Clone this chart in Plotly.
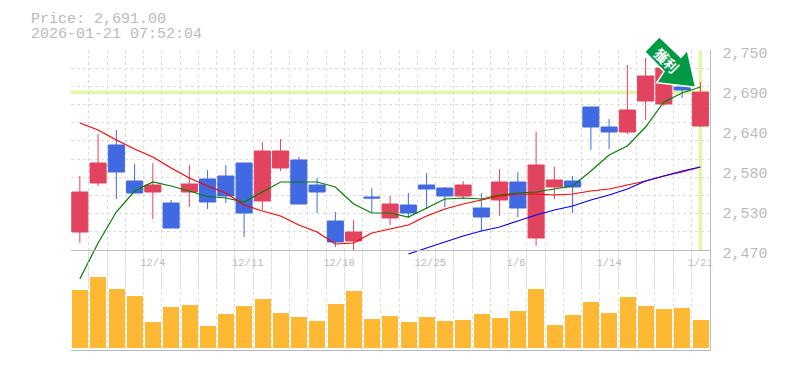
import plotly.graph_objects as go

W, H = 785, 370
X0, X1 = 70.7, 709.5
Y0, YM, YX, Y1 = 50, 250, 290, 350

idx = list(range(35))
tick_pos = [4.0, 9.2, 14.2, 19.2, 23.9, 29.0, 34.0]
tick_txt = ["12/4", "12/11", "12/18", "12/25", "1/6", "1/14", "1/21"]
price_ticks = [2750, 2694, 2638, 2582, 2526, 2470]
price_text = ["2,750", "2,690", "2,640", "2,580", "2,530", "2,470"]
price_grid = [2470, 2495.45, 2520.91, 2546.36, 2571.82, 2597.27, 2622.73, 2648.18, 2673.64, 2699.09, 2724.55, 2750]

opens = [2495.2, 2563.8, 2617, 2566.6, 2551.2, 2535.8, 2551.2, 2569.4, 2573.6, 2591.8, 2538.6, 2584.8, 2596, 2561, 2510.6, 2482.6, 2544.2, 2514.8, 2533, 2561, 2556.8, 2545.6, 2528.8, 2540, 2565.2, 2486.8, 2558.2, 2566.6, 2670.2, 2642.2, 2635.2, 2678.6, 2674.4, 2698.2, 2643.6]
highs = [2573.6, 2632.4, 2638, 2590.4, 2591.8, 2540, 2589, 2582, 2589, 2591.8, 2621.2, 2625.4, 2600.2, 2570.8, 2523.2, 2512, 2556.8, 2545.6, 2549.8, 2577.8, 2558.2, 2566.6, 2549.8, 2583.4, 2579.2, 2635.2, 2586.2, 2573.6, 2670.2, 2653.4, 2729, 2738.8, 2724.8, 2708, 2705.2]
lows = [2479.8, 2559.6, 2541.4, 2549.8, 2513.4, 2500.8, 2530.2, 2527.4, 2535.8, 2488.2, 2526, 2580.6, 2534.4, 2521.8, 2474.2, 2468.6, 2523.2, 2505, 2514.8, 2527.4, 2530.2, 2541.4, 2496.6, 2517.6, 2516.2, 2475.6, 2541.4, 2521.8, 2610, 2611.4, 2632.4, 2652, 2671.6, 2682.8, 2642.2]
closes = [2551.2, 2591.8, 2579.2, 2549.8, 2561, 2500.8, 2562.4, 2537.2, 2545.6, 2521.8, 2608.6, 2608.6, 2534.4, 2551.2, 2481.2, 2495.2, 2542.8, 2534.4, 2521.8, 2555.4, 2545.6, 2561, 2516.2, 2565.2, 2528.8, 2589, 2568, 2558.2, 2642.2, 2635.2, 2666, 2713.6, 2724.8, 2694, 2691]

ma_short = [2429.4, 2479.8, 2523.2, 2552.6, 2565.2, 2559.6, 2552.6, 2544.9, 2542.8, 2537.2, 2551.2, 2565.2, 2565.2, 2565.2, 2558.2, 2534.4, 2521.8, 2521.8, 2516.2, 2528.8, 2541.4, 2542.8, 2541.4, 2547, 2549.8, 2551.2, 2555.4, 2559.6, 2580.6, 2603, 2615.6, 2642.2, 2677.2, 2689.8, 2698.2]
ma_mid = [2647.8, 2638, 2624, 2611.4, 2600.2, 2584.8, 2570.8, 2559.6, 2549.8, 2533, 2524.6, 2517.6, 2505, 2495.2, 2478.4, 2479.8, 2493.8, 2499.4, 2505, 2517.6, 2527.4, 2534.4, 2540, 2545.6, 2548.4, 2548.4, 2547, 2548.4, 2552.6, 2555.4, 2561, 2566.6, 2573.6, 2579.2, 2586.2]
ma_long_idx = list(range(18, 35))
ma_long = [2464.4, 2472.8, 2481.2, 2489.6, 2496.6, 2502.2, 2510.6, 2519, 2526, 2531.6, 2540, 2547, 2555.4, 2566.6, 2573.6, 2580.6, 2586.2]

volume = [58, 71, 59, 52, 26, 41, 43, 22, 34, 42, 49, 35, 31, 27, 44, 57, 29, 32, 26, 31, 27, 28, 34, 30, 37, 59, 23, 33, 46, 35, 51, 42, 39, 40, 28]

last_price = 2691
last_idx = 34

RED, BLUE, ORANGE = "#E2435F", "#4169E1", "#FFB833"
GRID, FRAME, TEXT, CROSS = "#DDDDDD", "#BBBBBB", "#BBBBBB", "#E2F5A9"
MONO = "Liberation Mono"
PX = 1.4  # price units per pixel

fig = go.Figure()
fig.add_trace(go.Bar(x=idx, y=volume, width=0.88, marker=dict(color=ORANGE, line=dict(width=0)), xaxis="x2", yaxis="y2"))
fig.add_trace(go.Scatter(x=idx, y=ma_short, mode="lines", line=dict(color="#008000", width=1.2), xaxis="x", yaxis="y"))
fig.add_trace(go.Scatter(x=idx, y=ma_mid, mode="lines", line=dict(color="#FF0000", width=1.2), xaxis="x", yaxis="y"))
fig.add_trace(go.Scatter(x=ma_long_idx, y=ma_long, mode="lines", line=dict(color="#0000FF", width=1.2), xaxis="x", yaxis="y"))
fig.add_trace(go.Candlestick(
    x=idx, open=opens, high=highs, low=lows, close=closes, xaxis="x", yaxis="y", whiskerwidth=0,
    increasing=dict(line=dict(color=RED, width=1), fillcolor=RED),
    decreasing=dict(line=dict(color=BLUE, width=1), fillcolor=BLUE),
))
fig.add_trace(go.Scatter(x=[last_idx], y=[last_price], mode="markers", marker=dict(opacity=0), xaxis="x3", yaxis="y3"))

dx = (X0 / W, X1 / W)
grid_x = dict(range=[-0.5, 34.5], domain=dx, showgrid=True, gridcolor=GRID, griddash="3px,3px", gridwidth=1,
              tick0=-0.5, dtick=1, zeroline=False)
fig.update_layout(
    width=W, height=H, margin=dict(l=0, r=0, t=0, b=0, autoexpand=False), paper_bgcolor="white",
    plot_bgcolor="rgba(0,0,0,0)",
    showlegend=False, boxgap=0.12, boxgroupgap=0, bargap=0,
    font=dict(family=MONO, color=TEXT),
    xaxis=dict(**grid_x, anchor="y", showline=False, rangeslider=dict(visible=False), showticklabels=False, ticks=""),
    xaxis2=dict(**grid_x, anchor="y2", showline=True, linecolor=FRAME, linewidth=1, showticklabels=False, ticks=""),
    xaxis3=dict(range=[-0.5, 34.5], domain=dx, anchor="y3", showgrid=False, zeroline=False, showline=True,
                linecolor=FRAME, linewidth=1, tickmode="array", tickvals=tick_pos, ticktext=tick_txt, side="bottom",
                ticks="outside", ticklen=2, tickcolor="rgba(0,0,0,0)", tickangle=0,
                tickfont=dict(family=MONO, size=10.5, color=TEXT)),
    yaxis=dict(range=[2750 - (YX - Y0) * PX, 2750], domain=(1 - YX / H, 1 - Y0 / H), anchor="x", showgrid=True,
               gridcolor=GRID, griddash="3px,3px", gridwidth=1, tickmode="array", tickvals=price_grid,
               showticklabels=False, zeroline=False, ticks=""),
    yaxis2=dict(range=[-2, 98], domain=(1 - Y1 / H, 1 - YM / H), anchor="x2", showgrid=False, showticklabels=False,
                zeroline=False, ticks="", side="right", showline=True, linecolor=FRAME, linewidth=1),
    yaxis3=dict(range=[2470, 2750], domain=(1 - YM / H, 1 - Y0 / H), anchor="x3", side="right",
                showgrid=False, zeroline=False, tickmode="array", tickvals=price_ticks, ticktext=price_text,
                ticks="outside", ticklen=9, tickcolor="rgba(0,0,0,0)", ticklabelshift=3,
                showline=True, linecolor=FRAME, linewidth=1, tickfont=dict(family=MONO, size=15, color=TEXT)),
    shapes=[
        dict(type="line", xref="x", yref="paper", x0=last_idx, x1=last_idx, y0=1 - YM / H, y1=1 - Y0 / H,
             line=dict(color=CROSS, width=3.5), layer="below"),
        dict(type="line", xref="paper", yref="y", x0=X0 / W, x1=X1 / W, y0=last_price, y1=last_price,
             line=dict(color=CROSS, width=3.5), layer="below"),
        dict(type="path", xref="paper", yref="paper", layer="above",
             path=" ".join(("M" if i == 0 else "L") + f"{px / W:.5f},{1 - py / H:.5f}" for i, (px, py) in enumerate(
                 [(659.3, 36.7), (681, 57.5), (687.3, 50), (695.7, 87.3), (656.7, 82.7), (664, 71.7), (644.7, 51.7)])) + " Z",
             fillcolor="#009944", line=dict(color="white", width=1.5)),
    ],
    annotations=[
        dict(text="Price: 2,691.00", xref="paper", yref="paper", x=28.5 / W, y=1 - 19 / H, xanchor="left", yanchor="middle",
             height=14, showarrow=False, font=dict(family=MONO, size=15, color=TEXT)),
        dict(text="2026-01-21 07:52:04", xref="paper", yref="paper", x=28.5 / W, y=1 - 34 / H, xanchor="left", yanchor="middle",
             height=14, showarrow=False, font=dict(family=MONO, size=15, color=TEXT)),
        dict(text="<b>獲利</b>", xref="paper", yref="paper", x=666.5 / W, y=1 - 60 / H, xanchor="center", yanchor="middle",
             textangle=45, showarrow=False, font=dict(family="Noto Sans CJK TC", size=14, color="white")),
    ],
)
fig.write_html("out.html", config=dict(displayModeBar=False),
               post_script="document.body.style.margin='0';document.body.style.overflow='hidden';")
